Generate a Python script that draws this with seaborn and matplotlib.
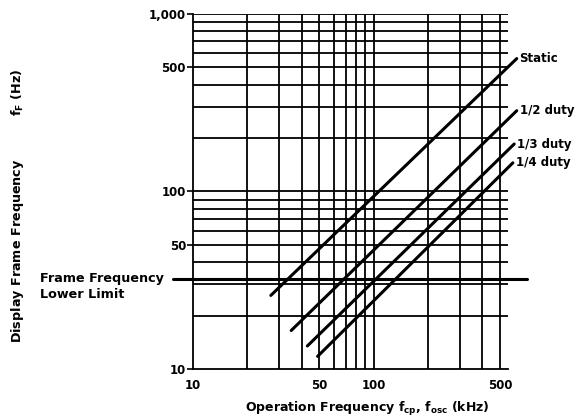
"""
Display frame frequency vs. operation frequency (LCD driver datasheet chart)
"""

import matplotlib
matplotlib.use("Agg")
import matplotlib.pyplot as plt
import seaborn as sns
import pandas as pd

# --- data ---
series = ['Static', '1/2 duty', '1/3 duty', '1/4 duty']
x_start = [27, 35, 43, 49]        # kHz
y_start = [26, 16.5, 13.5, 11.8]  # Hz
x_end = [620, 620, 600, 590]
y_end = [560, 285, 185, 145]
lower_limit = 32                  # Hz

x_grid = [20, 30, 40, 50, 60, 70, 80, 90, 100, 200, 300, 400, 500]
y_grid = [20, 30, 40, 50, 60, 70, 80, 90, 100,
          200, 300, 400, 500, 600, 700, 800, 900, 1000]
x_ticks = [10, 50, 100, 500]
x_tick_labels = ['10', '50', '100', '500']
y_ticks = [10, 50, 100, 500, 1000]
y_tick_labels = ['10', '50', '100', '500', '1,000']

sns.set_style("white")
plt.rcParams['font.family'] = ['DejaVu Sans']
plt.rcParams['mathtext.default'] = 'regular'
plt.rcParams['text.color'] = 'black'
plt.rcParams['xtick.color'] = 'black'
plt.rcParams['ytick.color'] = 'black'
FS = 8.5

rows = []
for name, xs, ys, xe, ye in zip(series, x_start, y_start, x_end, y_end):
    rows.append({'series': name, 'f': xs, 'fF': ys})
    rows.append({'series': name, 'f': xe, 'fF': ye})
df = pd.DataFrame(rows)

fig = plt.figure(figsize=(5.81, 4.19), dpi=100)
ax = fig.add_axes([0.332, 0.119, 0.542, 0.848])
ax.set_xscale('log')
ax.set_yscale('log')
ax.set_xlim(10, 553)
ax.set_ylim(10, 1000)

# grid drawn as plain black lines
for xv in x_grid:
    ax.axvline(xv, color='black', lw=1.3, zorder=1)
for yv in y_grid:
    ax.axhline(yv, color='black', lw=1.3, zorder=1)

sns.lineplot(data=df, x='f', y='fF', units='series', estimator=None,
             color='black', lw=2.2, ax=ax, legend=False, zorder=3)
for line in ax.get_lines()[-len(series):]:
    line.set_clip_on(False)
ax.set_xlabel('')
ax.set_ylabel('')

for name, xe, ye in zip(series, x_end, y_end):
    ax.annotate(name, (xe, ye), xytext=(2, 0), textcoords='offset points',
                ha='left', va='center', fontsize=FS, fontweight='bold',
                annotation_clip=False)

# frame frequency lower limit
ax.axhline(lower_limit, xmin=-0.063, xmax=1.06, color='black', lw=2.2,
           clip_on=False, zorder=3)
ax.annotate('Frame Frequency\nLower Limit', (-0.487, lower_limit),
            xycoords=ax.get_yaxis_transform(), xytext=(0, 5),
            textcoords='offset points', ha='left', va='top',
            fontsize=9.2, fontweight='bold', linespacing=1.3,
            annotation_clip=False)

for side in ['top', 'right']:
    ax.spines[side].set_visible(False)
for side in ['left', 'bottom']:
    ax.spines[side].set_color('black')
    ax.spines[side].set_linewidth(1.3)

ax.set_xticks(x_ticks)
ax.set_xticklabels(x_tick_labels)
ax.set_yticks(y_ticks)
ax.set_yticklabels(y_tick_labels)
ax.minorticks_off()
ax.tick_params(axis='y', which='major', direction='out', length=4, width=1.2,
               left=True, pad=1, labelsize=FS)
ax.tick_params(axis='x', which='major', length=0, pad=7, labelsize=FS)
for lab in ax.get_xticklabels() + ax.get_yticklabels():
    lab.set_fontweight('bold')

fig.text(0.633, 0.025, 'Operation Frequency f$_{cp}$, f$_{osc}$ (kHz)',
         ha='center', va='center', fontsize=9, fontweight='bold')
fig.text(0.03, 0.51, 'Display Frame Frequency          f$_F$ (Hz)',
         rotation=90, ha='center', va='center', fontsize=9.2,
         fontweight='bold')

fig.savefig('out.png', dpi=100)
